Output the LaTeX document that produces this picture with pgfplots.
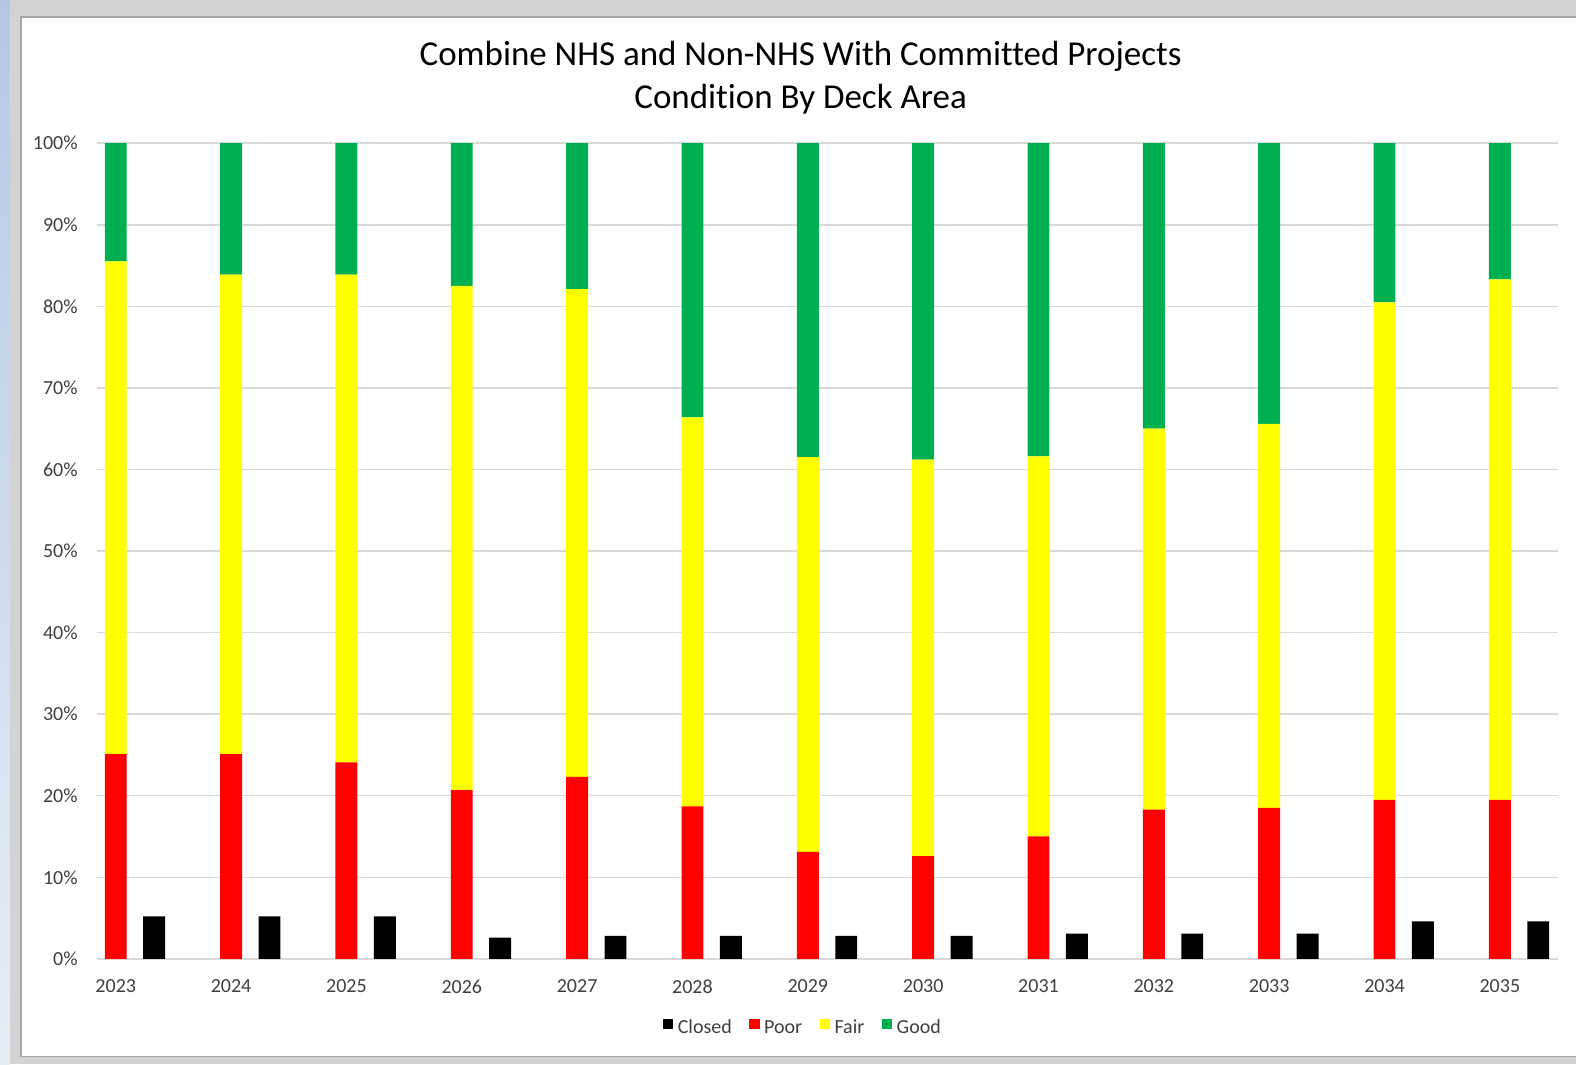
\documentclass[border=0pt]{standalone}
\usepackage{pgfplots}
\pgfplotsset{compat=1.18}
\usepackage{fontspec}
\setmainfont{Carlito}[Ligatures=NoCommon]
\definecolor{bggray}{HTML}{D3D3D3}
\definecolor{bordergray}{HTML}{A6A6A6}
\definecolor{bluetop}{HTML}{B4C8E6}
\definecolor{bluebot}{HTML}{E8EEF6}
\definecolor{gridgray}{HTML}{D9D9D9}
\definecolor{ticktext}{HTML}{404040}
\definecolor{cgood}{HTML}{00B050}
\definecolor{cpoor}{HTML}{FF0000}
\definecolor{cfair}{HTML}{FFFF00}
\pgfplotsset{
  sqlegend/.style={legend image code/.code={\fill[##1] (0pt,-0.6pt) rectangle (5.3pt,4.7pt);}},
  myaxis/.style={
    at={(48.5pt,-479.65pt)}, anchor=south west,
    scale only axis, width=731pt, height=408pt,
    xmin=-0.163, xmax=12.506, ymin=0, ymax=100,
    enlargelimits=false,
    axis line style={draw=none}, tick style={draw=none},
    xtick={0,1,...,12},
    xticklabels={2023,2024,2025,2026,2027,2028,2029,2030,2031,2032,2033,2034,2035},
    ytick={0,10,...,100},
    yticklabels={0\%,10\%,20\%,30\%,40\%,50\%,60\%,70\%,80\%,90\%,100\%},
    ticklabel style={font=\fontsize{10}{12}\selectfont, text=ticktext},
    yticklabel style={inner xsep=0pt, xshift=-9.5pt},
    xticklabel style={inner ysep=0pt, yshift=-6pt},
    bar width=0.19,
  }
}
\begin{document}
\begin{tikzpicture}
\fill[bggray] (0,0) rectangle (788.5pt,-532.5pt);
\shade[top color=bluetop, bottom color=bluebot] (0,0) rectangle (5pt,-532.5pt);
\fill[white] (10.5pt,-8.5pt) rectangle (788.5pt,-528.5pt);
\draw[bordergray, line width=0.8pt] (788.5pt,-8.5pt) -- (10.5pt,-8.5pt) -- (10.5pt,-528.5pt) -- (788.5pt,-528.5pt);
\node[font=\fontsize{17.5}{21.5}\selectfont, align=center, text=black] at (400.5pt,-39pt)
  {Combine NHS and Non-NHS With Committed Projects\\Condition By Deck Area};
\begin{axis}[myaxis, ybar, bar shift=0pt,
  ymajorgrids, grid style={color=gridgray, line width=0.75pt}]
\addplot[fill=black, draw=none] coordinates {
(0.333,5.2) (1.333,5.2) (2.333,5.2) (3.333,2.6) (4.333,2.8) (5.333,2.8) (6.333,2.8)
(7.333,2.8) (8.333,3.1) (9.333,3.1) (10.333,3.1) (11.333,4.6) (12.333,4.6)};
\end{axis}
\begin{axis}[myaxis, ybar stacked, hide axis,
  legend columns=4,
  legend style={at={(0.4839,-0.0845)}, anchor=center, draw=none, fill=none,
    font=\fontsize{10}{12}\selectfont, text=ticktext,
    nodes={inner xsep=2.2pt, inner ysep=0pt},
    /tikz/every even column/.append style={column sep=6.5pt}}]
\addlegendimage{fill=black, draw=none, sqlegend}
\addlegendentry{Closed}
\addplot[fill=cpoor, draw=none, sqlegend] coordinates {
(0,25.1) (1,25.1) (2,24.1) (3,20.7) (4,22.3) (5,18.7) (6,13.1)
(7,12.6) (8,15.0) (9,18.3) (10,18.5) (11,19.5) (12,19.5)};
\addlegendentry{Poor}
\addplot[fill=cfair, draw=none, sqlegend] coordinates {
(0,60.4) (1,58.8) (2,59.8) (3,61.8) (4,59.8) (5,47.7) (6,48.4)
(7,48.6) (8,46.6) (9,46.7) (10,47.1) (11,61.0) (12,63.8)};
\addlegendentry{Fair}
\addplot[fill=cgood, draw=none, sqlegend] coordinates {
(0,14.5) (1,16.1) (2,16.1) (3,17.5) (4,17.9) (5,33.6) (6,38.5)
(7,38.8) (8,38.4) (9,35.0) (10,34.4) (11,19.5) (12,16.7)};
\addlegendentry{Good}
\end{axis}
\end{tikzpicture}
\end{document}
